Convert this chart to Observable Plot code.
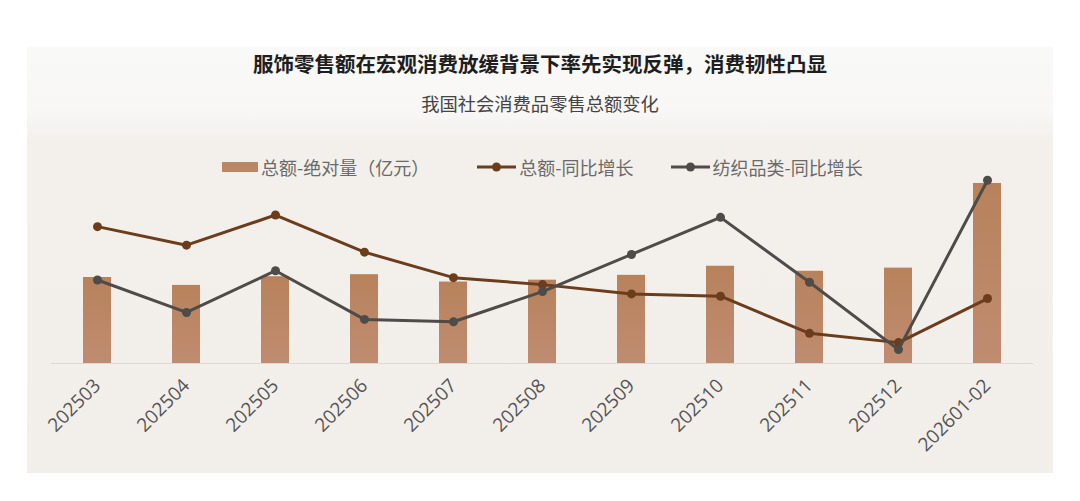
<!DOCTYPE html>
<html>
<head>
<meta charset="utf-8">
<script src="https://cdn.jsdelivr.net/npm/d3@7"></script>
<script src="https://cdn.jsdelivr.net/npm/@observablehq/plot@0.6"></script>
<style>
  html, body { margin: 0; padding: 0; background: #ffffff; }
  #root { position: relative; width: 1080px; height: 501px; overflow: hidden; font-family: "Noto Sans CJK SC", "Noto Sans", sans-serif; }
  #panel { position: absolute; left: 27px; top: 47px; width: 1026px; height: 426px;
    background: linear-gradient(to bottom, #f9f9f8 0px, #f8f7f6 66px, #f3f0ec 92px, #f2efeb 100%); }
  .flow { position: relative; }
  #title { padding-top: 50px; height: 26px; line-height: 26px; text-align: center; font-size: 20.5px; font-weight: 700; color: #1e1e1e; }
  #subtitle { margin-top: 15px; height: 24px; line-height: 24px; text-align: center; font-size: 18.3px; color: #444; }
  #legend { margin-top: 40px; height: 24px; line-height: 24px; font-size: 18px; color: #6a6a6a; display: flex; align-items: center; padding-left: 222px; }
  #legend .item { display: flex; align-items: center; }
  #legend svg { display: block; }
  #chart { margin-top: -19px; }
</style>
</head>
<body>
<div id="root">
  <div id="panel"></div>
  <div id="title" class="flow"></div>
  <div id="subtitle" class="flow"></div>
  <div id="legend" class="flow"></div>
  <div id="chart" class="flow"></div>
</div>
<script>
const titleText = "服饰零售额在宏观消费放缓背景下率先实现反弹，消费韧性凸显";
const subtitleText = "我国社会消费品零售总额变化";
const months = ["202503","202504","202505","202506","202507","202508","202509","202510","202511","202512","202601-02"];
const totalAbs = [40940, 37174, 41326, 42287, 38780, 39668, 41971, 46291, 43898, 45400, 85700]; // 亿元
const totalYoY = [5.9, 5.1, 6.4, 4.8, 3.7, 3.4, 3.0, 2.9, 1.3, 0.9, 2.8]; // %
const textileYoY = [3.6, 2.2, 4.0, 1.9, 1.8, 3.1, 4.7, 6.3, 3.5, 0.6, 7.9]; // %
const seriesNames = ["总额-绝对量（亿元）", "总额-同比增长", "纺织品类-同比增长"];

const barColor = "#bb8662";
const brown = "#6b3d1c";
const gray = "#4e4b49";

document.getElementById("title").textContent = titleText;
document.getElementById("subtitle").textContent = subtitleText;

// legend
const legend = document.getElementById("legend");
function addItem(kind, color, label, gapBefore) {
  const it = document.createElement("div");
  it.className = "item";
  it.style.marginLeft = gapBefore + "px";
  if (kind === "bar") {
    it.innerHTML = `<svg width="36" height="10"><rect width="36" height="10" fill="${color}"/></svg>`;
  } else {
    it.innerHTML = `<svg width="39" height="12"><line x1="0" x2="39" y1="6" y2="6" stroke="${color}" stroke-width="3"/><circle cx="19.5" cy="6" r="4.5" fill="${color}"/></svg>`;
  }
  const t = document.createElement("span");
  t.textContent = label;
  t.style.marginLeft = "3px";
  it.appendChild(t);
  legend.appendChild(it);
}
addItem("bar", barColor, seriesNames[0], 0);
addItem("line", brown, seriesNames[1], 48);
addItem("line", gray, seriesNames[2], 37);

const rows = months.map((m, i) => ({month: m, total: totalAbs[i], yoy: totalYoY[i], tex: textileYoY[i]}));

// secondary (percent) scale mapped into the primary (亿元) scale
const yMax = 90440;
const pct = d3.scaleLinear().domain([0, 8.19]).range([0, yMax]);

const plot = Plot.plot({
  width: 1080,
  height: 341,
  marginLeft: 51,
  marginRight: 47,
  marginTop: 13,
  marginBottom: 138,
  style: {overflow: "visible", background: "transparent", fontFamily: "'Open Sans', 'Noto Sans', sans-serif"},
  x: {type: "band", domain: months, paddingInner: 0.69, paddingOuter: 0.345, label: null},
  y: {domain: [0, yMax], axis: null},
  marks: [
    Plot.barY(rows, {x: "month", y: "total", fill: "url(#barGrad)"}),
    Plot.ruleY([0], {stroke: "#dcd8d3", strokeWidth: 1.2}),
    Plot.lineY(rows, {x: "month", y: d => pct(d.yoy), stroke: brown, strokeWidth: 3}),
    Plot.dot(rows, {x: "month", y: d => pct(d.yoy), r: 4.5, fill: brown}),
    Plot.lineY(rows, {x: "month", y: d => pct(d.tex), stroke: gray, strokeWidth: 3}),
    Plot.dot(rows, {x: "month", y: d => pct(d.tex), r: 4.5, fill: gray}),
    Plot.axisX({tickRotate: -45, tickSize: 0, tickPadding: 19, fontSize: 19, fill: "#555", label: null})
  ]
});

const defs = d3.select(plot).insert("defs", ":first-child");
const grad = defs.append("linearGradient").attr("id", "barGrad").attr("x1", 0).attr("x2", 0).attr("y1", 0).attr("y2", 1);
grad.append("stop").attr("offset", "0%").attr("stop-color", "#b7825b");
grad.append("stop").attr("offset", "100%").attr("stop-color", "#c08c71");

document.getElementById("chart").appendChild(plot);
</script>
</body>
</html>
